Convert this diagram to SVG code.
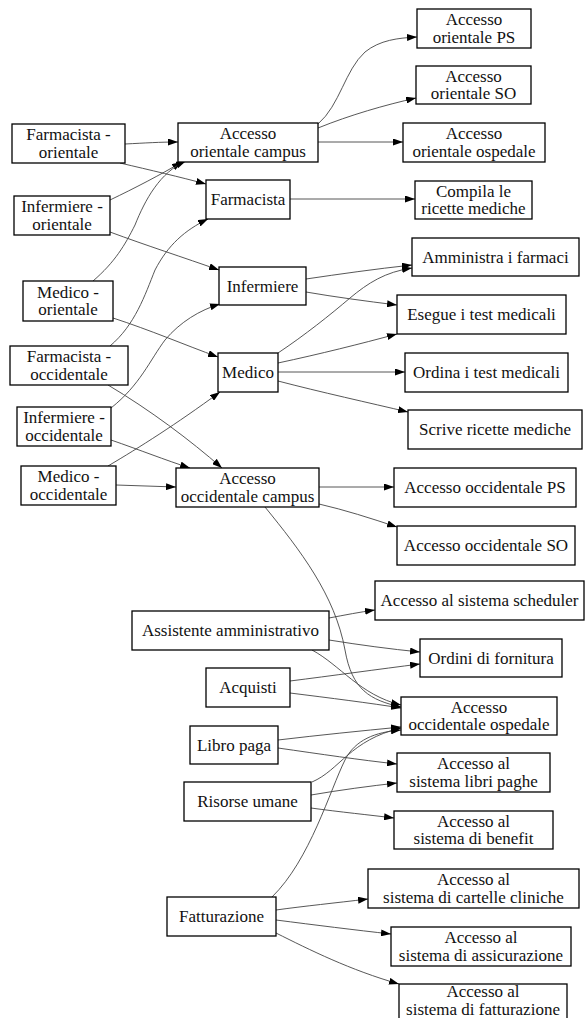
<svg xmlns="http://www.w3.org/2000/svg" width="586" height="1018" viewBox="0 0 586 1018">
<style>
.n rect{fill:#fff;stroke:#000;stroke-width:1.3}
.n text{font-family:"Liberation Serif","Times New Roman",serif;font-size:17px;text-anchor:middle;fill:#111}
.e path{fill:none;stroke:#444;stroke-width:0.9;marker-end:url(#ah)}
</style>
<defs>
<marker id="ah" markerWidth="10" markerHeight="7" refX="10" refY="3.5" orient="auto" markerUnits="userSpaceOnUse"><path d="M0,0 L10,3.5 L0,7 z" fill="#000"/></marker>
</defs>
<rect width="586" height="1018" fill="#fff"/>
<g id="connectors" class="e">
<path d="M125,144 C145,143 160,142 178,142"/>
<path d="M120,163 C150,170 180,177 206,184"/>
<path d="M110,200 C135,188 160,175 182,162"/>
<path d="M110,232 C145,245 185,258 219,270"/>
<path d="M93,281 C115,262 125,245 135,225 C145,200 160,172 186,161"/>
<path d="M113,318 C150,330 185,345 218,357"/>
<path d="M110,346 C135,325 145,295 155,270 C168,245 185,230 208,219"/>
<path d="M108,385 C150,410 190,440 222,468"/>
<path d="M111,408 C140,385 150,360 165,340 C180,322 200,310 220,304"/>
<path d="M111,440 C140,450 165,460 190,468"/>
<path d="M108,466 C140,447 175,425 220,392"/>
<path d="M116,485 L176,487"/>
<path d="M318,124 C340,105 345,70 365,52 C380,40 398,38 417,37"/>
<path d="M318,128 C350,115 385,105 416,98"/>
<path d="M318,142 L403,142"/>
<path d="M290,199 L415,199"/>
<path d="M306,279 C340,274 375,269 412,265"/>
<path d="M306,292 C335,297 365,301 397,305"/>
<path d="M278,353 C305,335 330,315 350,298 C368,283 385,272 412,268"/>
<path d="M278,363 C320,354 360,344 397,334"/>
<path d="M278,372 L405,372"/>
<path d="M278,381 C320,392 370,403 408,412"/>
<path d="M319,487 L394,487"/>
<path d="M319,504 C345,510 370,518 397,527"/>
<path d="M265,507 C300,550 335,595 345,650 C352,690 370,700 401,707"/>
<path d="M329,618 C345,615 360,612 375,610"/>
<path d="M329,640 C360,645 390,649 420,652"/>
<path d="M312,650 C340,665 360,695 401,705"/>
<path d="M290,681 C330,676 380,669 420,664"/>
<path d="M290,693 C330,698 370,703 401,708"/>
<path d="M278,740 C320,735 360,731 401,727"/>
<path d="M278,748 C320,754 360,760 397,764"/>
<path d="M312,782 C340,770 350,740 401,728"/>
<path d="M311,795 C340,790 370,786 397,783"/>
<path d="M311,808 C340,812 370,815 394,818"/>
<path d="M272,897 C310,860 330,790 345,760 C355,740 375,732 401,730"/>
<path d="M276,910 C305,906 335,903 368,899"/>
<path d="M276,920 C315,925 355,930 391,934"/>
<path d="M276,933 C310,950 350,970 399,984"/>
</g>
<g id="farmacista-orientale" class="n"><rect x="12" y="124" width="113" height="39"/><text x="68.5" y="140">Farmacista -</text><text x="68.5" y="157.5">orientale</text></g>
<g id="infermiere-orientale" class="n"><rect x="14" y="196" width="96" height="39"/><text x="62" y="212">Infermiere -</text><text x="62" y="229.5">orientale</text></g>
<g id="medico-orientale" class="n"><rect x="23" y="281" width="90" height="40"/><text x="68" y="297.5">Medico -</text><text x="68" y="315">orientale</text></g>
<g id="farmacista-occidentale" class="n"><rect x="10" y="346" width="118" height="39"/><text x="69" y="362">Farmacista -</text><text x="69" y="379.5">occidentale</text></g>
<g id="infermiere-occidentale" class="n"><rect x="17" y="407" width="94" height="39"/><text x="64" y="423">Infermiere -</text><text x="64" y="440.5">occidentale</text></g>
<g id="medico-occidentale" class="n"><rect x="21" y="466" width="95" height="39"/><text x="68.5" y="482">Medico -</text><text x="68.5" y="499.5">occidentale</text></g>
<g id="accesso-orientale-campus" class="n"><rect x="178" y="123" width="140" height="39"/><text x="248" y="139">Accesso</text><text x="248" y="156.5">orientale campus</text></g>
<g id="farmacista" class="n"><rect x="206" y="180" width="84" height="39"/><text x="248" y="205">Farmacista</text></g>
<g id="infermiere" class="n"><rect x="219" y="267" width="87" height="38"/><text x="262.5" y="291.5">Infermiere</text></g>
<g id="medico" class="n"><rect x="218" y="353" width="60" height="39"/><text x="248" y="378">Medico</text></g>
<g id="accesso-occidentale-campus" class="n"><rect x="176" y="468" width="143" height="39"/><text x="247.5" y="484">Accesso</text><text x="247.5" y="501.5">occidentale campus</text></g>
<g id="accesso-orientale-ps" class="n"><rect x="417" y="9" width="114" height="39"/><text x="474" y="25">Accesso</text><text x="474" y="42.5">orientale PS</text></g>
<g id="accesso-orientale-so" class="n"><rect x="416" y="66" width="115" height="38"/><text x="473.5" y="81.5">Accesso</text><text x="473.5" y="99">orientale SO</text></g>
<g id="accesso-orientale-ospedale" class="n"><rect x="403" y="123" width="142" height="39"/><text x="474" y="139">Accesso</text><text x="474" y="156.5">orientale ospedale</text></g>
<g id="compila" class="n"><rect x="415" y="181" width="117" height="38"/><text x="473.5" y="196.5">Compila le</text><text x="473.5" y="214">ricette mediche</text></g>
<g id="amministra" class="n"><rect x="412" y="238" width="167" height="38"/><text x="495.5" y="262.5">Amministra i farmaci</text></g>
<g id="esegue" class="n"><rect x="397" y="295" width="169" height="39"/><text x="481.5" y="320">Esegue i test medicali</text></g>
<g id="ordina" class="n"><rect x="405" y="353" width="163" height="39"/><text x="486.5" y="378">Ordina i test medicali</text></g>
<g id="scrive" class="n"><rect x="408" y="410" width="174" height="39"/><text x="495" y="435">Scrive ricette mediche</text></g>
<g id="accesso-occidentale-ps" class="n"><rect x="394" y="468" width="182" height="39"/><text x="485" y="493">Accesso occidentale PS</text></g>
<g id="accesso-occidentale-so" class="n"><rect x="397" y="526" width="178" height="39"/><text x="486" y="551">Accesso occidentale SO</text></g>
<g id="scheduler" class="n"><rect x="375" y="581" width="209" height="39"/><text x="479.5" y="606">Accesso al sistema scheduler</text></g>
<g id="ordini" class="n"><rect x="420" y="639" width="142" height="38"/><text x="491" y="663.5">Ordini di fornitura</text></g>
<g id="accesso-occidentale-ospedale" class="n"><rect x="401" y="697" width="156" height="38"/><text x="479" y="712.5">Accesso</text><text x="479" y="730">occidentale ospedale</text></g>
<g id="libri-paghe" class="n"><rect x="397" y="753" width="153" height="39"/><text x="473.5" y="769">Accesso al</text><text x="473.5" y="786.5">sistema libri paghe</text></g>
<g id="benefit" class="n"><rect x="394" y="811" width="159" height="38"/><text x="473.5" y="826.5">Accesso al</text><text x="473.5" y="844">sistema di benefit</text></g>
<g id="cartelle" class="n"><rect x="368" y="869" width="211" height="39"/><text x="473.5" y="885">Accesso al</text><text x="473.5" y="902.5">sistema di cartelle cliniche</text></g>
<g id="assicurazione" class="n"><rect x="391" y="927" width="180" height="39"/><text x="481" y="943">Accesso al</text><text x="481" y="960.5">sistema di assicurazione</text></g>
<g id="sistema-fatturazione" class="n"><rect x="399" y="984" width="168" height="39"/><text x="483" y="997">Accesso al</text><text x="483" y="1014.5">sistema di fatturazione</text></g>
<g id="assistente" class="n"><rect x="132" y="611" width="197" height="39"/><text x="230.5" y="636">Assistente amministrativo</text></g>
<g id="acquisti" class="n"><rect x="206" y="668" width="84" height="39"/><text x="248" y="693">Acquisti</text></g>
<g id="libro-paga" class="n"><rect x="190" y="726" width="88" height="38"/><text x="234" y="750.5">Libro paga</text></g>
<g id="risorse-umane" class="n"><rect x="184" y="782" width="127" height="39"/><text x="247.5" y="807">Risorse umane</text></g>
<g id="fatturazione" class="n"><rect x="167" y="897" width="109" height="39"/><text x="221.5" y="922">Fatturazione</text></g>
</svg>
